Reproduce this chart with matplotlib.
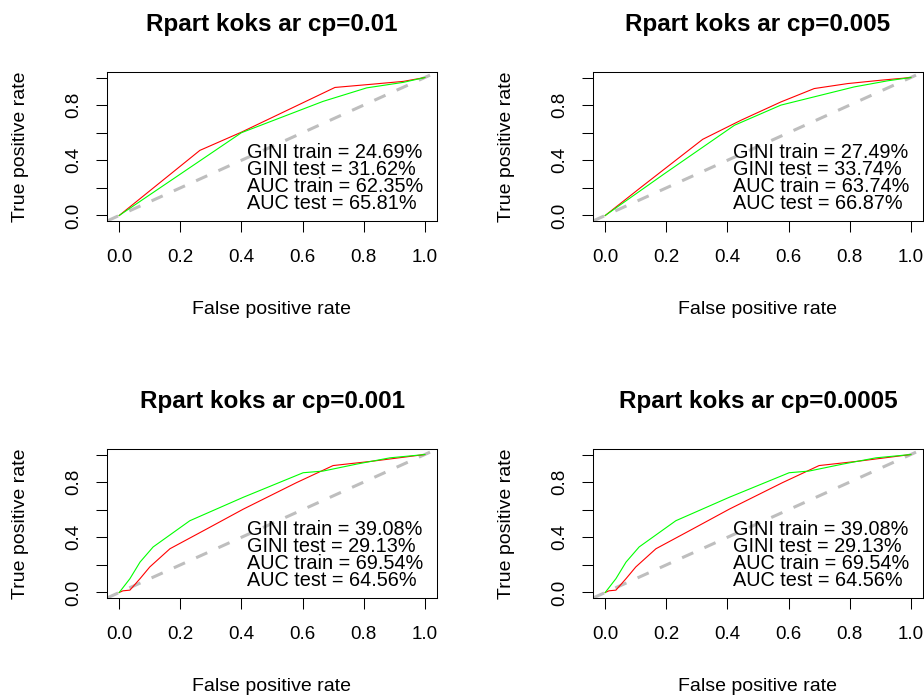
import matplotlib
matplotlib.use("Agg")
import matplotlib.pyplot as plt

plt.rcParams['font.family'] = ['Liberation Sans', 'DejaVu Sans']

# ROC points (fpr, tpr); red = test, green = train
titles = ["Rpart koks ar cp=0.01", "Rpart koks ar cp=0.005",
          "Rpart koks ar cp=0.001", "Rpart koks ar cp=0.0005"]

fpr_test_01 = [0, 0.264, 0.40, 0.706, 0.83, 0.93, 1.0]
tpr_test_01 = [0, 0.472, 0.604, 0.928, 0.952, 0.972, 1.0]
fpr_train_01 = [0, 0.40, 0.667, 0.81, 0.93, 1.0]
tpr_train_01 = [0, 0.60, 0.827, 0.925, 0.965, 1.0]

fpr_test_005 = [0, 0.118, 0.319, 0.444, 0.575, 0.684, 0.793, 0.90, 1.0]
tpr_test_005 = [0, 0.206, 0.552, 0.69, 0.823, 0.92, 0.956, 0.98, 1.0]
fpr_train_005 = [0, 0.194, 0.423, 0.575, 0.684, 0.815, 0.924, 1.0]
tpr_train_005 = [0, 0.303, 0.654, 0.80, 0.86, 0.932, 0.976, 1.0]

fpr_test_001 = [0, 0.012, 0.035, 0.068, 0.10, 0.166, 0.286, 0.406, 0.58, 0.70, 0.83, 0.94, 1.0]
tpr_test_001 = [0, 0.012, 0.017, 0.10, 0.185, 0.317, 0.46, 0.604, 0.796, 0.92, 0.952, 0.983, 1.0]
fpr_train_001 = [0, 0.035, 0.068, 0.111, 0.231, 0.406, 0.602, 0.667, 0.776, 0.886, 1.0]
tpr_train_001 = [0, 0.10, 0.22, 0.33, 0.52, 0.69, 0.868, 0.88, 0.93, 0.976, 1.0]

gini_train = [24.69, 27.49, 39.08, 39.08]
gini_test = [31.62, 33.74, 29.13, 29.13]
auc_train = [62.35, 63.74, 69.54, 69.54]
auc_test = [65.81, 66.87, 64.56, 64.56]

curves = [
    (fpr_test_01, tpr_test_01, fpr_train_01, tpr_train_01),
    (fpr_test_005, tpr_test_005, fpr_train_005, tpr_train_005),
    (fpr_test_001, tpr_test_001, fpr_train_001, tpr_train_001),
    (fpr_test_001, tpr_test_001, fpr_train_001, tpr_train_001),
]

W, H = 924, 697
fig = plt.figure(figsize=(W / 100, H / 100), dpi=100)

# panel boxes in pixels: left, top
boxes = [(107, 72), (593, 72), (107, 449), (593, 449)]
bw, bh = 330, 149

for i in range(4):
    left, top = boxes[i]
    ax = fig.add_axes([left / W, (H - top - bh) / H, bw / W, bh / H])
    ft, tt, fr, tr = curves[i]

    ax.axline((0, 0), (1, 1), color='#BEBEBE', lw=2.2, dashes=(4, 4), zorder=1)
    ax.plot(ft, tt, color='#FF0000', lw=0.8, zorder=2)
    ax.plot(fr, tr, color='#00FF00', lw=0.8, zorder=3)

    ax.set_xlim(-0.04, 1.04)
    ax.set_ylim(-0.04, 1.04)
    ax.set_xticks([0, 0.2, 0.4, 0.6, 0.8, 1.0])
    ax.set_xticklabels(['0.0', '0.2', '0.4', '0.6', '0.8', '1.0'])
    ax.set_yticks([0, 0.2, 0.4, 0.6, 0.8, 1.0])
    ax.set_yticklabels(['0.0', '', '0.4', '', '0.8', ''], rotation=90, va='center')
    ax.tick_params(axis='both', length=8, width=0.75, labelsize=13.5, color='black')
    ax.tick_params(axis='x', pad=12)
    ax.tick_params(axis='y', pad=10)
    for s in ax.spines.values():
        s.set_linewidth(0.75)

    ax.set_xlabel("False positive rate", fontsize=14, va='center')
    ax.xaxis.set_label_coords(0.5, -0.597)
    ax.set_ylabel("True positive rate", fontsize=14, va='center')
    ax.yaxis.set_label_coords(-0.262, 0.5)
    ax.set_title(titles[i], fontsize=17.5, fontweight='bold', y=1.322, va='center', pad=0)

    lines = [
        f"GINI train = {gini_train[i]:.2f}%",
        f"GINI test = {gini_test[i]:.2f}%",
        f"AUC train = {auc_train[i]:.2f}%",
        f"AUC test = {auc_test[i]:.2f}%",
    ]
    ys = [0.46, 0.335, 0.21, 0.085]
    for txt, yy in zip(lines, ys):
        ax.text(0.417, yy, txt, fontsize=14.3, ha='left', va='center')

fig.savefig("out.png", dpi=100)
